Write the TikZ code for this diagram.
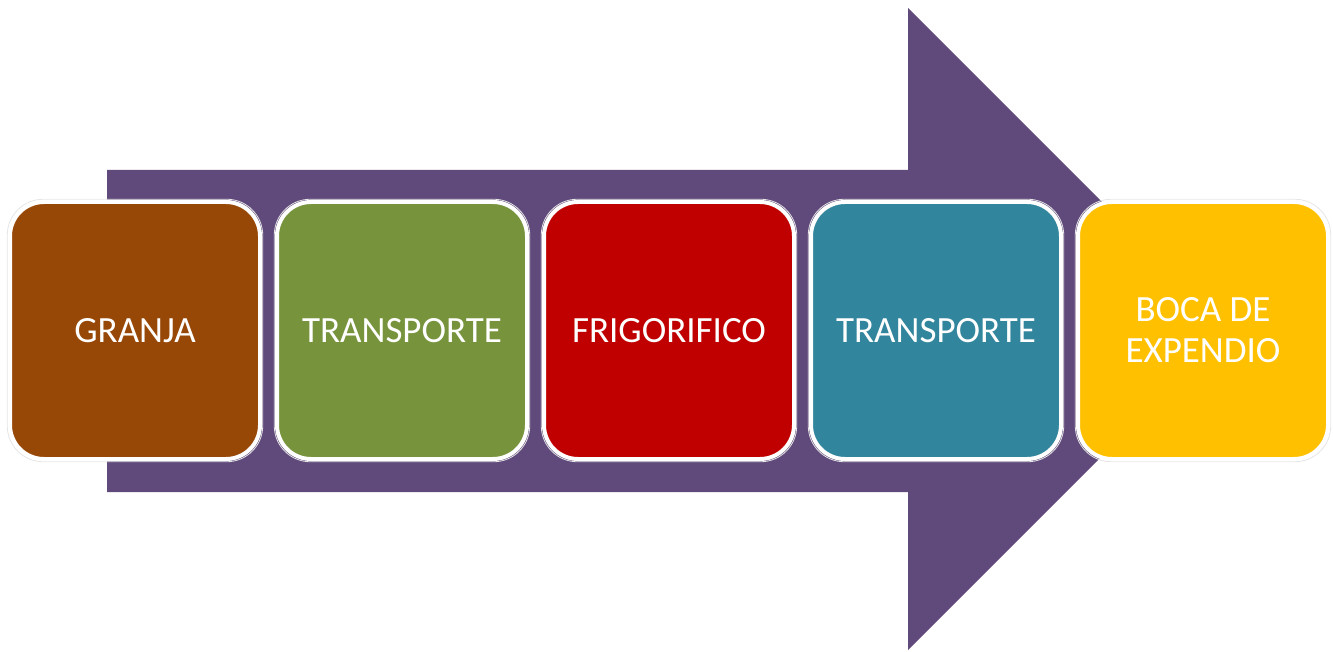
\documentclass[tikz,border=0pt]{standalone}
\usepackage{fontspec}
\setmainfont{Carlito}
\definecolor{arrowpurple}{HTML}{604A7B}
\definecolor{cbrown}{HTML}{974706}
\definecolor{cgreen}{HTML}{77933C}
\definecolor{cred}{HTML}{C00000}
\definecolor{cteal}{HTML}{31859C}
\definecolor{cyellow}{HTML}{FFC000}
\begin{document}
\begin{tikzpicture}[x=1pt,y=-1pt,
  stagebox/.style={rounded corners=34pt, minimum width=250pt, minimum height=257pt,
    draw=white, line width=4pt, text=white, font=\fontsize{37}{41}\selectfont,
    align=center, inner sep=0pt, outer sep=0pt},
  halo/.style={draw=black!10, line width=0.8pt, fill=none, rounded corners=36pt, minimum width=255.5pt, minimum height=262.5pt, inner sep=0pt}]
\useasboundingbox (0,0) rectangle (1333,652);
% big arrow
\fill[arrowpurple] (107,170) -- (908,170) -- (908,8) -- (1229,329) -- (908,650) -- (908,492) -- (107,492) -- cycle;
% stages
\foreach \cx/\nm in {135/h1,402/h2,669/h3,936/h4,1203/h5}{
  \node[halo] (\nm) at (\cx,330.5) {};
}
\node[stagebox, fill=cbrown]  (s1) at (135,330.5) {GRANJA};
\node[stagebox, fill=cgreen]  (s2) at (402,330.5) {TRANSPORTE};
\node[stagebox, fill=cred]    (s3) at (669,330.5) {FRIGORIFICO};
\node[stagebox, fill=cteal]   (s4) at (936,330.5) {TRANSPORTE};
\node[stagebox, fill=cyellow] (s5) at (1203,330.5) {BOCA DE\\EXPENDIO};
\end{tikzpicture}
\end{document}
